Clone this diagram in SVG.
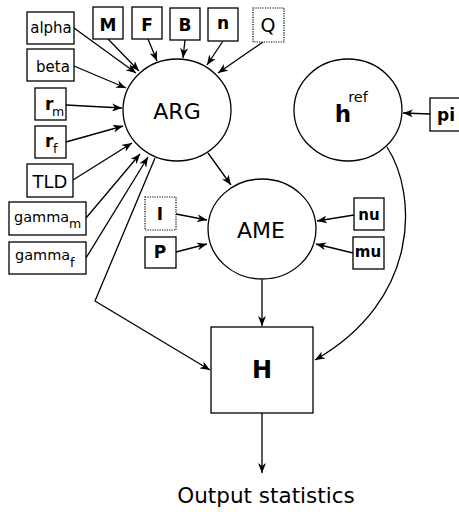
<svg xmlns="http://www.w3.org/2000/svg" width="459" height="512" viewBox="0 0 459 512">
<defs>
<marker id="ah" viewBox="0 0 10 8" refX="10" refY="4" markerWidth="10" markerHeight="8" markerUnits="userSpaceOnUse" orient="auto">
<path d="M0,0 L10,4 L0,8 L3,4 z" fill="#000"/>
</marker>
<style>
.box{fill:#fff;stroke:#000;stroke-width:1.3}
.dot{fill:#fff;stroke:#000;stroke-width:1.2;stroke-dasharray:1.2,1.2}
.ell{fill:#fff;stroke:#000;stroke-width:1.3}
.c{fill:none;stroke:#000;stroke-width:1.3;marker-end:url(#ah)}
text{font-family:"DejaVu Sans","Liberation Sans",sans-serif;fill:#000;text-anchor:middle}
.n{font-size:15px}
.b{font-size:17px;font-weight:bold}
.big{font-size:22px}
.sub{font-size:12.5px;text-anchor:start}
.st{text-anchor:start}
</style>
</defs>
<rect width="459" height="512" fill="#fff"/>
<g id="connectors">
<line class="c" x1="74" y1="28" x2="136" y2="73"/>
<line class="c" x1="108" y1="39" x2="139" y2="71"/>
<line class="c" x1="148" y1="39" x2="157" y2="61"/>
<line class="c" x1="185" y1="40" x2="183" y2="58"/>
<line class="c" x1="223" y1="41" x2="207" y2="65"/>
<line class="c" x1="263" y1="42" x2="218" y2="73"/>
<line class="c" x1="74" y1="66" x2="126" y2="88"/>
<line class="c" x1="66" y1="105" x2="122" y2="108"/>
<line class="c" x1="66" y1="142" x2="123" y2="126"/>
<line class="c" x1="73" y1="180" x2="132" y2="143"/>
<line class="c" x1="86" y1="218" x2="140" y2="154"/>
<line class="c" x1="86" y1="258" x2="148" y2="157"/>
<polyline class="c" points="155,158 95,301 210,370"/>
<line class="c" x1="208" y1="153" x2="231" y2="185"/>
<line class="c" x1="176" y1="214" x2="207" y2="220"/>
<line class="c" x1="176" y1="252" x2="207" y2="244"/>
<line class="c" x1="354" y1="215" x2="317" y2="221"/>
<line class="c" x1="353" y1="253" x2="316" y2="244"/>
<line class="c" x1="430" y1="114" x2="403" y2="113"/>
<path class="c" d="M387,147 C418,195 420,300 315,360"/>
<line class="c" x1="262" y1="280" x2="262" y2="326"/>
<line class="c" x1="262" y1="413" x2="262" y2="473"/>
</g>
<g id="alpha"><rect class="box" x="27" y="12" width="47" height="32"/><text class="n" x="51" y="33">alpha</text></g>
<g id="beta"><rect class="box" x="27" y="49" width="47" height="32"/><text class="n" x="53" y="72">beta</text></g>
<g id="r_m"><rect class="box" x="35" y="88" width="31" height="32"/><text class="b st" x="45" y="110">r</text><text class="sub" x="52" y="116">m</text></g>
<g id="r_f"><rect class="box" x="35" y="126" width="31" height="32"/><text class="b st" x="45" y="147">r</text><text class="sub" x="53" y="153">f</text></g>
<g id="TLD"><rect class="box" x="27" y="164" width="46" height="33"/><text x="50" y="188" style="font-size:18px">TLD</text></g>
<g id="gamma_m"><rect class="box" x="9" y="202" width="77" height="33"/><text class="st" x="14" y="222" style="font-size:14.5px">gamma</text><text class="sub" x="69" y="228">m</text></g>
<g id="gamma_f"><rect class="box" x="9" y="242" width="77" height="32"/><text class="st" x="15" y="260" style="font-size:14.5px">gamma</text><text class="sub" x="70" y="267">f</text></g>
<g id="M"><rect class="box" x="93" y="7" width="30" height="32"/><text class="b" x="108" y="31">M</text></g>
<g id="F"><rect class="box" x="132" y="7" width="30" height="32"/><text class="b" x="147" y="31">F</text></g>
<g id="B"><rect class="box" x="170" y="8" width="30" height="32"/><text class="b" x="185" y="31">B</text></g>
<g id="n"><rect class="box" x="208" y="8" width="30" height="33"/><text class="b" x="223" y="29">n</text></g>
<g id="Q"><rect class="dot" x="253" y="8" width="31" height="34"/><text x="268" y="32" style="font-size:19px">Q</text></g>
<g id="ARG"><ellipse class="ell" cx="177" cy="110" rx="54" ry="51"/><text class="big" x="177" y="119">ARG</text></g>
<g id="href"><ellipse class="ell" cx="348" cy="110" rx="54" ry="51"/><text x="343" y="122" style="font-size:23px;font-weight:bold">h</text><text x="358" y="102" style="font-size:14.5px">ref</text></g>
<g id="pi"><rect class="box" x="430" y="98" width="32" height="33"/><text class="b" x="446" y="121">pi</text></g>
<g id="AME"><ellipse class="ell" cx="262" cy="229" rx="54" ry="50"/><text class="big" x="261" y="238">AME</text></g>
<g id="I"><rect class="dot" x="145" y="197" width="31" height="33"/><text class="b" x="160" y="220">I</text></g>
<g id="P"><rect class="box" x="145" y="237" width="31" height="31"/><text class="b" x="160" y="258">P</text></g>
<g id="nu"><rect class="box" x="354" y="198" width="30" height="32"/><text x="369" y="220" style="font-size:15px;font-weight:bold">nu</text></g>
<g id="mu"><rect class="box" x="353" y="237" width="31" height="32"/><text x="368" y="257" style="font-size:15px;font-weight:bold">mu</text></g>
<g id="H"><rect class="box" x="211" y="327" width="102" height="86"/><text x="262" y="378" style="font-size:24px;font-weight:bold">H</text></g>
<g id="output"><text x="266" y="503" style="font-size:21.5px">Output statistics</text></g>
</svg>
